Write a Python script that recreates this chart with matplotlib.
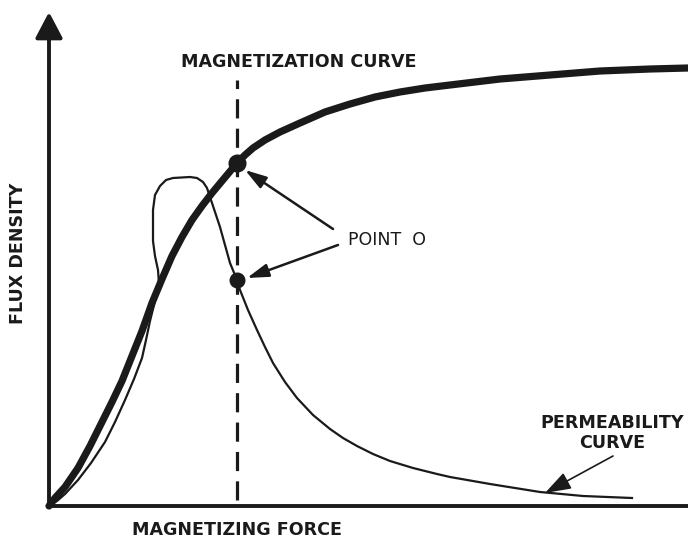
import matplotlib
matplotlib.use("Agg")
import matplotlib.pyplot as plt

plt.rcParams["font.family"] = ["DejaVu Sans"]

# magnetizing force H vs flux density B (arbitrary drawing units, origin at axes corner)
mag_h = [0, 6, 16, 29, 41, 53, 63, 73, 83, 93, 103, 113, 123, 133, 143, 153,
         163, 173, 183, 188, 196, 204, 216, 231, 251, 276, 301, 326, 351, 376,
         401, 426, 451, 501, 551, 601, 639]
mag_b = [0, 8, 19, 38, 60, 84, 104, 125, 150, 175, 203, 227, 250, 269, 286, 300,
         313, 325, 337, 343, 351, 358, 366, 374, 383, 394, 402, 409, 414, 418,
         421, 424, 427, 431, 435, 437, 438]

# permeability curve, incl. the loop around the knee
perm_h = [0, 8, 16, 29, 42, 56, 66, 76, 85, 93, 97, 101, 106, 110, 109, 106,
          104, 104, 104, 106, 111, 117, 124, 141, 148, 154, 158, 161, 166, 171,
          176, 181, 188, 191, 199, 208, 216, 224, 236, 248, 264, 281, 294, 308,
          324, 341, 364, 388, 401, 441, 491, 534, 583]
perm_b = [0, 5, 12, 26, 43, 64, 84, 106, 127, 148, 166, 185, 205, 222, 236, 250,
          265, 280, 296, 311, 320, 326, 328, 329, 328, 324, 318, 309, 294, 279,
          261, 243, 226, 216, 196, 176, 159, 143, 124, 108, 91, 77, 68, 60,
          52, 45, 38, 32, 29, 22, 14, 10, 8]

# point O: same H on both curves
point_o_h = 188
point_o_mag = 343
point_o_perm = 226

fig = plt.figure(figsize=(6.88, 5.42), dpi=100)
ax = fig.add_axes([0, 0, 1, 1])
ax.set_xlim(-49, 639)
ax.set_ylim(-36, 506)
ax.axis("off")

# axes: x plain, y with a filled arrowhead
ax.plot([-1, 639], [0, 0], color="#1a1a1a", lw=2.8, solid_capstyle="butt")
ax.annotate("", xy=(0, 494), xytext=(0, 0),
            arrowprops=dict(arrowstyle="-|>,head_length=0.8,head_width=0.42",
                            mutation_scale=20, lw=2.8, color="#1a1a1a",
                            shrinkA=0, shrinkB=0, capstyle="butt"))

ax.plot([point_o_h, point_o_h], [6, 426], color="#1a1a1a", lw=2.3,
        dashes=(6, 3.2))

ax.plot(perm_h, perm_b, color="#1a1a1a", lw=1.6, solid_joinstyle="round")
ax.plot(mag_h, mag_b, color="#1a1a1a", lw=5.2, solid_joinstyle="round",
        solid_capstyle="round")

ax.plot(point_o_h, point_o_mag, "o", color="#1a1a1a", ms=12)
ax.plot(point_o_h, point_o_perm, "o", color="#1a1a1a", ms=10.5)

small_arrow = dict(arrowstyle="-|>,head_length=1.3,head_width=0.4",
                   mutation_scale=10, lw=1.8, color="#1a1a1a",
                   shrinkA=0, shrinkB=0)
ax.annotate("", xy=(196, 336), xytext=(284, 277), arrowprops=small_arrow)
ax.annotate("", xy=(198, 228), xytext=(289, 261), arrowprops=small_arrow)
ax.annotate("", xy=(496, 13), xytext=(564, 50),
            arrowprops=dict(arrowstyle="-|>,head_length=1.6,head_width=0.55",
                            mutation_scale=10, lw=1.2, color="#1a1a1a",
                            shrinkA=0, shrinkB=0))

lbl = dict(color="#1a1a1a", fontweight="bold", fontsize=12.6)
ax.text(250, 444, "MAGNETIZATION CURVE", ha="center", va="center", **lbl)
ax.text(188, -24, "MAGNETIZING FORCE", ha="center", va="center", **lbl)
ax.text(-31, 253, "FLUX DENSITY", ha="center", va="center", rotation=90, **lbl)
ax.text(563, 83, "PERMEABILITY", ha="center", va="center", **lbl)
ax.text(563, 63, "CURVE", ha="center", va="center", **lbl)
ax.text(299, 266, "POINT  O", ha="left", va="center", color="#1a1a1a",
        fontsize=12.5)

fig.savefig("out.png", dpi=100, facecolor="white")
